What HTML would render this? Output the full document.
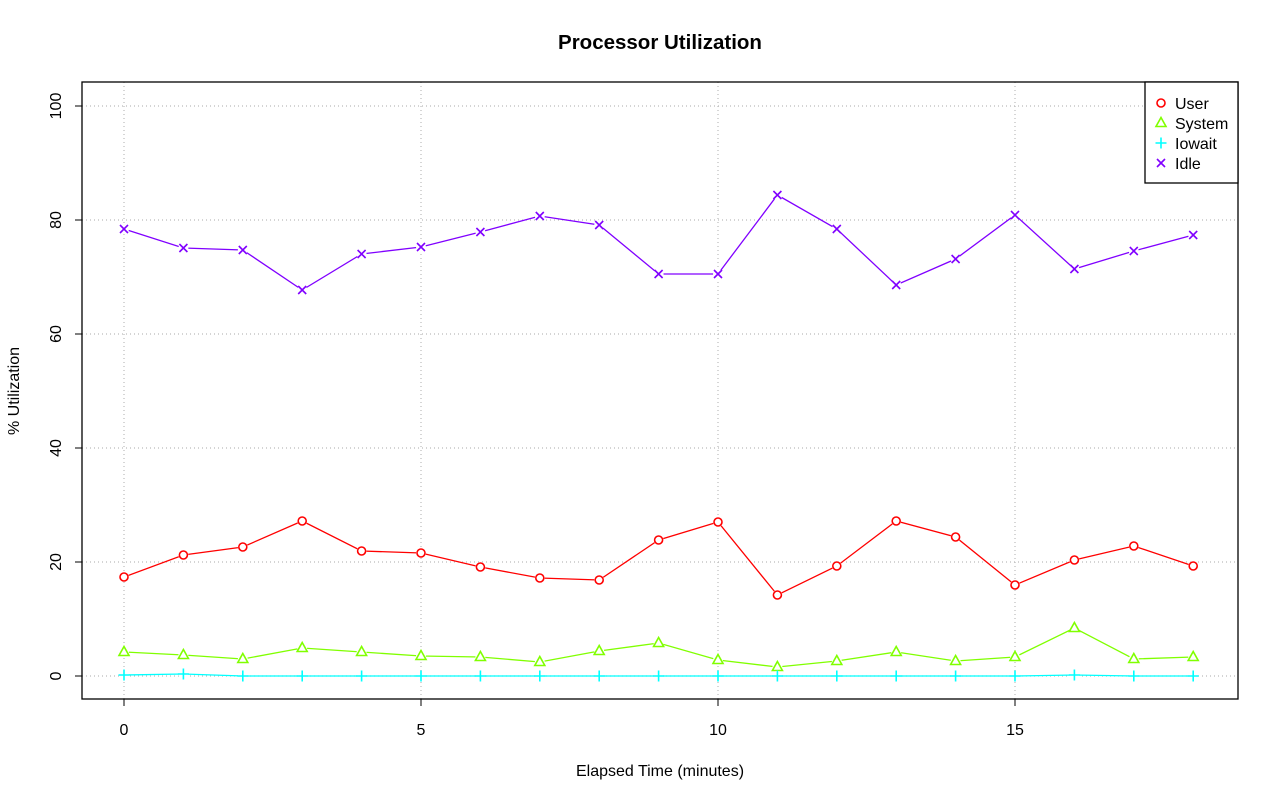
<!DOCTYPE html>
<html><head><meta charset="utf-8"><style>
html,body{margin:0;padding:0;background:#fff;}
svg{display:block;font-family:"Liberation Sans",sans-serif;}
</style></head><body>
<svg id="s" width="1280" height="801" xmlns="http://www.w3.org/2000/svg">
<rect width="1280" height="801" fill="#fff"/>
<text x="660" y="49" text-anchor="middle" font-size="20.5" font-weight="bold">Processor Utilization</text>
<g stroke="#bbbbbb" stroke-dasharray="1,3" stroke-width="1.2">
<line x1="124" y1="82" x2="124" y2="699"/><line x1="421" y1="82" x2="421" y2="699"/>
<line x1="718" y1="82" x2="718" y2="699"/><line x1="1015" y1="82" x2="1015" y2="699"/>
<line x1="82" y1="676" x2="1238" y2="676"/><line x1="82" y1="562" x2="1238" y2="562"/>
<line x1="82" y1="448" x2="1238" y2="448"/><line x1="82" y1="334" x2="1238" y2="334"/>
<line x1="82" y1="220" x2="1238" y2="220"/><line x1="82" y1="106" x2="1238" y2="106"/>
</g>
<rect x="82" y="82" width="1156" height="617" fill="none" stroke="#000" stroke-width="1.3"/>
<g stroke="#000">
<line x1="124" y1="699" x2="124" y2="706"/><line x1="421" y1="699" x2="421" y2="706"/>
<line x1="718" y1="699" x2="718" y2="706"/><line x1="1015" y1="699" x2="1015" y2="706"/>
<line x1="75" y1="676" x2="82" y2="676"/><line x1="75" y1="562" x2="82" y2="562"/>
<line x1="75" y1="448" x2="82" y2="448"/><line x1="75" y1="334" x2="82" y2="334"/>
<line x1="75" y1="220" x2="82" y2="220"/><line x1="75" y1="106" x2="82" y2="106"/>
</g>
<g font-size="16" text-anchor="middle">
<text x="124" y="735">0</text><text x="421" y="735">5</text><text x="718" y="735">10</text><text x="1015" y="735">15</text>
<text x="660" y="776">Elapsed Time (minutes)</text>
<text transform="translate(61,676) rotate(-90)">0</text>
<text transform="translate(61,562) rotate(-90)">20</text>
<text transform="translate(61,448) rotate(-90)">40</text>
<text transform="translate(61,334) rotate(-90)">60</text>
<text transform="translate(61,220) rotate(-90)">80</text>
<text transform="translate(61,106) rotate(-90)">100</text>
<text transform="translate(19,391) rotate(-90)">% Utilization</text>
</g>
<rect x="1145" y="82" width="93" height="101" fill="#fff" stroke="#000" stroke-width="1.3"/>
<g font-size="16"><text x="1175" y="109">User</text><text x="1175" y="129">System</text><text x="1175" y="149">Iowait</text><text x="1175" y="169">Idle</text></g>
<g id="g"></g>
</svg>
<script>
var X=[];for(var i=0;i<19;i++)X.push(124+59.4*i);
var S=[
 ["#ff0000","o",[577,555,547,521,551,553,567,578,580,540,522,595,566,521,537,585,560,546,566]],
 ["#80ff00","t",[652,655,659,648,652,656,657,662,651,643,660,667,661,652,661,657,628,659,657]],
 ["#00ffff","p",[675,674,676,676,676,676,676,676,676,676,676,676,676,676,676,676,675,676,676]],
 ["#8000ff","x",[229,248,250,290,254,247,232,216,225,274,274,195,229,285,259,215,269,251,235]]];
var h="";
function mk(t,c,x,y){
 if(t=="o")return '<circle cx="'+x+'" cy="'+y+'" r="4" fill="none" stroke="'+c+'" stroke-width="1.6"/>';
 if(t=="t")return '<polygon points="'+x+','+(y-5.5)+' '+(x-5)+','+(y+3.5)+' '+(x+5)+','+(y+3.5)+'" fill="#fff" stroke="'+c+'" stroke-width="1.6"/>';
 if(t=="p")return '<path d="M'+(x-5.5)+' '+y+'h11M'+x+' '+(y-5.5)+'v11" stroke="'+c+'" stroke-width="1.6"/>';
 return '<path d="M'+(x-4)+' '+(y-4)+'l8 8M'+(x-4)+' '+(y+4)+'l8 -8" stroke="'+c+'" stroke-width="1.6"/>';
}
S.forEach(function(s,k){
 var p=s[2].map(function(y,i){return X[i]+","+y}).join(" ");
 h+='<polyline points="'+p+'" fill="none" stroke="'+s[0]+'" stroke-width="1.3"/>';
 s[2].forEach(function(y,i){h+='<circle cx="'+X[i]+'" cy="'+y+'" r="5" fill="#fff"/>'+mk(s[1],s[0],X[i],y);});
 h+=mk(s[1],s[0],1161,103+20*k);
});
document.getElementById("g").innerHTML=h;
</script>
</body></html>
